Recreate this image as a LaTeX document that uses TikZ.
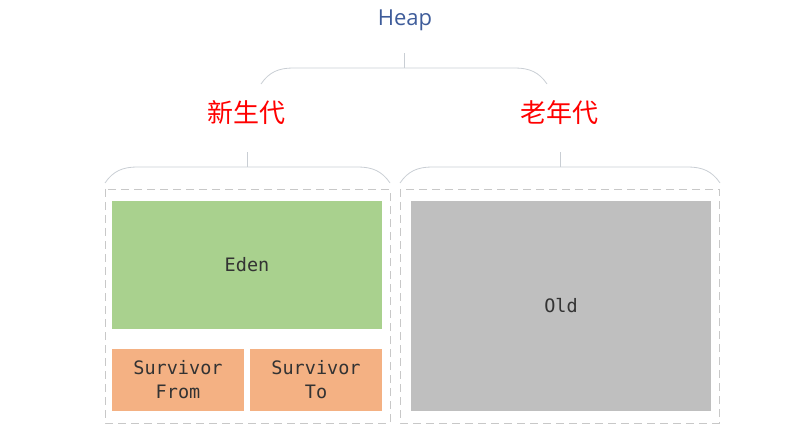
\documentclass[tikz,border=0pt]{standalone}
\usepackage{fontspec}
\setmainfont{Open Sans}
\setmonofont{DejaVu Sans Mono}
\newfontfamily\cjk{Noto Sans CJK SC}
\usepackage{tikz}
\usetikzlibrary{positioning}
\usetikzlibrary{calc}

\definecolor{heapblue}{HTML}{3E5C9A}
\definecolor{edengreen}{HTML}{A9D18E}
\definecolor{survorange}{HTML}{F4B183}
\definecolor{oldgray}{HTML}{BFBFBF}
\definecolor{dashgray}{HTML}{C8C8C8}
\definecolor{bracegray}{HTML}{C9CED4}

% brace: left x, right x, y of the flat part
\newcommand{\genbrace}[3]{%
    \draw[brace] (#1,#3+16) .. controls (#1+8,#3+4) and (#1+18,#3) .. (#1+32,#3)
        -- (#2-32,#3) .. controls (#2-18,#3) and (#2-8,#3+4) .. (#2,#3+16);
    \draw[brace] ({(#1+#2)/2},#3) -- ++(0,-15);
}

\begin{document}
\begin{tikzpicture}[x=1pt, y=-1pt,
    space/.style={anchor=north west, inner sep=0pt, outer sep=0pt, align=center,
        text=black!80, font=\ttfamily\fontsize{18.5}{24}\selectfont},
    region/.style={draw=dashgray, line width=0.8pt, dash pattern=on 8pt off 5pt},
    brace/.style={draw=bracegray, line width=0.8pt},
    gen/.style={text=red, font=\cjk\fontsize{26}{30}\selectfont}]

    \useasboundingbox (0,0) rectangle (794,438);

    \node[text=heapblue, font=\fontsize{22}{26}\selectfont] (heap) at (405,20) {Heap};

    % generations
    \node[gen] (young) at (246,113) {新生代};
    \node[gen] (tenured) at (559,113) {老年代};

    \genbrace{261}{547}{68}
    \genbrace{105}{390}{167}
    \genbrace{400}{720}{167}

    % young
    \node[space, fill=edengreen, minimum width=270pt, minimum height=128pt] (eden) at (112,201) {Eden};
    \node[space, fill=survorange, minimum width=132pt, minimum height=62pt,
        below=20pt of eden.south west, anchor=north west] (from) {Survivor\\From};
    \node[space, fill=survorange, minimum width=132pt, minimum height=62pt,
        right=6pt of from] (to) {Survivor\\To};

    % old
    \node[space, fill=oldgray, minimum width=300pt, minimum height=210pt,
        right=29pt of eden.north east, anchor=north west] (old) {Old};

    \draw[region] ($(eden.north west)+(-7,-12)$) rectangle ($(to.south east)+(8,12)$);
    \draw[region] ($(old.north west)+(-11,-12)$) rectangle ($(old.south east)+(8,12)$);

\end{tikzpicture}
\end{document}
